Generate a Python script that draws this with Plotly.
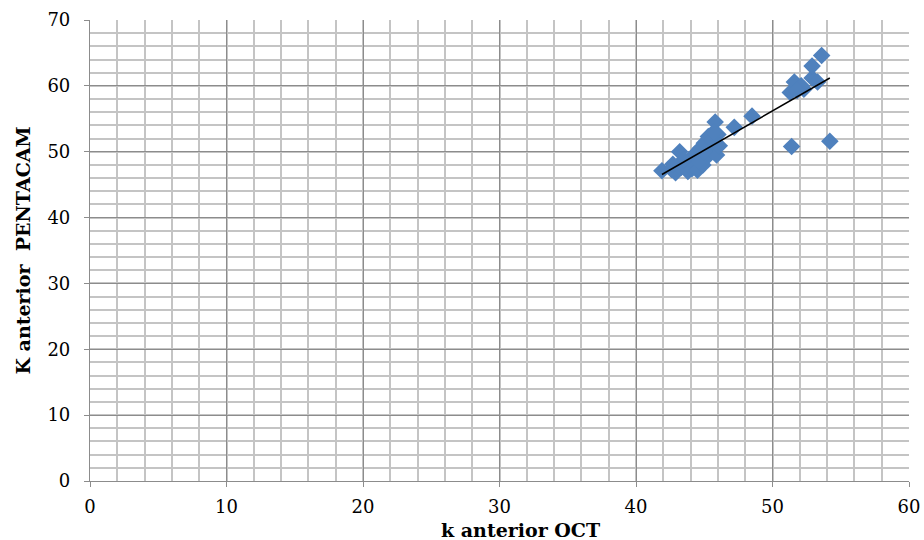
import numpy as np
import plotly.graph_objects as go

# k anterior measured by OCT (x) vs Pentacam (y)
k_oct = [41.9, 42.6, 42.9, 43.3, 43.2, 43.6, 43.8, 44.1, 44.0, 44.3,
         44.5, 44.7, 44.9, 45.0, 45.2, 45.3, 45.5, 45.6, 45.8, 45.9,
         46.0, 46.1, 44.6, 43.5, 42.7, 45.0, 45.7, 47.2, 48.5,
         51.3, 51.6, 52.3, 52.1, 52.9, 53.3, 52.9, 53.6, 51.8,
         51.4, 54.2]
k_pentacam = [47.1, 47.3, 46.8, 47.6, 50.0, 48.3, 47.0, 47.4, 48.9, 49.6,
              47.2, 50.5, 48.0, 51.3, 49.2, 52.3, 50.3, 51.9, 54.5, 49.5,
              52.6, 50.9, 48.6, 48.8, 48.1, 50.0, 53.0, 53.7, 55.4,
              59.0, 60.6, 59.5, 60.0, 61.2, 60.6, 63.0, 64.6, 59.3,
              50.8, 51.6]

x_ticks = [0, 10, 20, 30, 40, 50, 60]
y_ticks = [0, 10, 20, 30, 40, 50, 60, 70]

# least-squares trend line over the observed range
xa = np.array(k_oct)
ya = np.array(k_pentacam)
slope, intercept = np.polyfit(xa, ya, 1)
trend_x = np.array([xa.min(), xa.max()])
trend_y = slope * trend_x + intercept

fig = go.Figure()
fig.add_trace(go.Scatter(
    x=k_oct, y=k_pentacam, mode="markers",
    marker=dict(symbol="diamond", size=13.5, color="#4F81BD",
                line=dict(width=0)),
    showlegend=False,
))
fig.add_trace(go.Scatter(
    x=trend_x, y=trend_y, mode="lines",
    line=dict(color="#000000", width=1.5),
    showlegend=False,
))

tick_font = dict(family="DejaVu Serif, Liberation Serif, serif", size=18, color="#000000")
axis_common = dict(
    showgrid=True, gridcolor="#8c8c8c", gridwidth=1.2,
    showline=True, linecolor="#8c8c8c", linewidth=1.2,
    ticks="outside", ticklen=5, tickcolor="#8c8c8c", tickwidth=1.2,
    zeroline=False, tickfont=tick_font, automargin=False,
    minor=dict(dtick=2, showgrid=True, gridcolor="#c4c4c4", gridwidth=1.8,
               ticks=""),
)

fig.update_xaxes(range=[0, 60], tickvals=x_ticks, ticklabelstandoff=4, **axis_common)
fig.update_yaxes(range=[0, 70], tickvals=y_ticks, ticklabelstandoff=10, **axis_common)

title_font = dict(family="DejaVu Serif, Liberation Serif, serif", size=19, color="#000000")
fig.add_annotation(text="<b>k anterior OCT</b>", xref="paper", yref="paper",
                   x=0.526, y=-0.106, xanchor="center", yanchor="middle",
                   showarrow=False, font=title_font)
fig.add_annotation(text="<b>K anterior  PENTACAM</b>", xref="paper", yref="paper",
                   x=-0.083, y=0.5, xanchor="center", yanchor="middle",
                   textangle=-90, showarrow=False, font=title_font)

fig.update_layout(
    width=924, height=540,
    margin=dict(l=90, r=15, t=20, b=59),
    paper_bgcolor="#ffffff", plot_bgcolor="#ffffff",
)

fig.write_html("out.html")
